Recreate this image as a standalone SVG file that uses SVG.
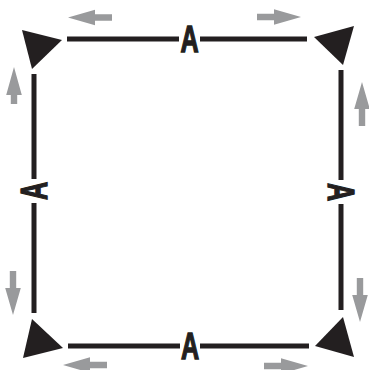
<svg xmlns="http://www.w3.org/2000/svg" width="369" height="370" viewBox="0 0 369 370">
<style>
.ln{stroke:#231f20;stroke-width:5;fill:none}
.tri{fill:#231f20}
.ga{fill:#999a9c}
.lbl{font-family:"Liberation Sans",Arial,sans-serif;font-weight:bold;font-size:37px;fill:#231f20;stroke:#231f20;stroke-width:1.4;text-anchor:middle}
</style>
<defs>
<path id="garr" d="M-44,-3.2 H-27 V-7.8 L0,0 L-27,7.8 V3.2 H-44 Z"/>
<path id="garr-s" d="M-37,-3.2 H-28 V-7.8 L0,0 L-28,7.8 V3.2 H-37 Z"/>
</defs>
<rect width="369" height="370" fill="#fff"/>
<g id="connectors">
<path class="ln" d="M67,39 H179 M200,39 H307"/>
<path class="ln" d="M34,74 V179 M34,203 V313"/>
<path class="ln" d="M341,70 V180 M341,204 V310"/>
<path class="ln" d="M68,346 H180 M200,346 H309"/>
</g>
<g id="corner-tl"><polygon class="tri" points="22,30 62,40 32,69"/></g>
<g id="corner-tr"><polygon class="tri" points="314,37 354,26 343,65"/></g>
<g id="corner-bl"><polygon class="tri" points="32,319 63,348 23,358"/></g>
<g id="corner-br"><polygon class="tri" points="315,346 343,317 354,357"/></g>
<g id="label-top"><text class="lbl" transform="translate(189.5,39) scale(0.68,1)" x="0" y="13">A</text></g>
<g id="label-bottom"><text class="lbl" transform="translate(190,346) scale(0.68,1)" x="0" y="13">A</text></g>
<g id="label-left"><text class="lbl" transform="translate(34,191) rotate(-90) scale(0.68,1)" x="0" y="13">A</text></g>
<g id="label-right"><text class="lbl" transform="translate(341,192) rotate(90) scale(0.68,1)" x="0" y="13">A</text></g>
<g id="flow-arrows">
<use href="#garr" class="ga" transform="translate(68,17.5) rotate(180)"/>
<use href="#garr" class="ga" transform="translate(301,17)"/>
<use href="#garr-s" class="ga" transform="translate(14,67) rotate(-90)"/>
<use href="#garr" class="ga" transform="translate(362,82) rotate(-90)"/>
<use href="#garr" class="ga" transform="translate(13,315) rotate(90)"/>
<use href="#garr" class="ga" transform="translate(360,322) rotate(90)"/>
<use href="#garr" class="ga" transform="translate(63,365) rotate(180)"/>
<use href="#garr" class="ga" transform="translate(308,366)"/>
</g>
</svg>
